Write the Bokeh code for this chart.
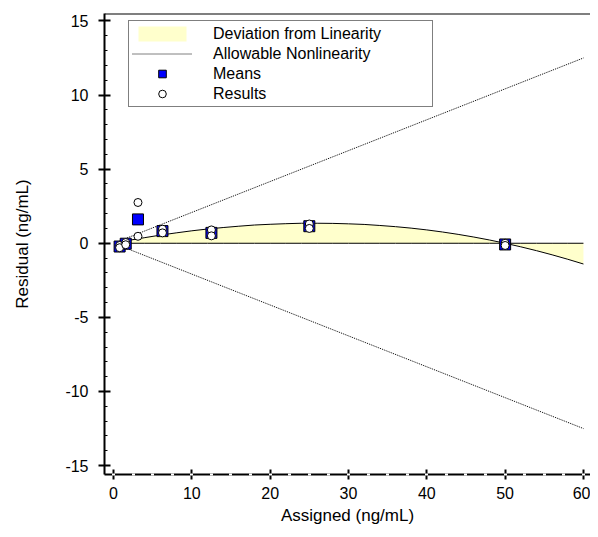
from bokeh.plotting import figure
from bokeh.models import Legend, LegendItem, Span, Range1d, SingleIntervalTicker, PrintfTickFormatter
from bokeh.embed import file_html
from bokeh.resources import INLINE

# ---- data ----
assigned = [0.78, 1.56, 3.125, 6.25, 12.5, 25, 50]
means = [-0.22, -0.03, 1.61, 0.82, 0.70, 1.15, -0.08]

results_x = [0.78, 0.78, 1.56, 1.56, 3.125, 3.125, 6.25, 6.25, 12.5, 12.5, 25, 25, 50, 50]
results_y = [-0.15, -0.30, 0.05, -0.10, 2.75, 0.47, 0.95, 0.70, 0.90, 0.50, 1.30, 1.00, 0.00, -0.15]

curve_x = [0.78, 2, 4, 6, 8, 10, 12, 14, 16, 18, 20, 22, 24, 26, 28, 30,
           32, 34, 36, 38, 40, 42, 44, 46, 48, 50, 52, 54, 56, 58, 60]
curve_y = [0.08, 0.20, 0.38, 0.55, 0.70, 0.84, 0.96, 1.06, 1.15, 1.23, 1.28, 1.32, 1.35, 1.35, 1.34, 1.31,
           1.27, 1.20, 1.12, 1.02, 0.90, 0.76, 0.60, 0.42, 0.22, 0.00, -0.24, -0.50, -0.78, -1.08, -1.40]
baseline_y = [0.0] * len(curve_x)

allow_x = [0.78, 60]
allow_hi = [0.16, 12.5]
allow_lo = [-0.16, -12.5]

x_ticks_interval = 10
y_ticks_interval = 5

FONT = "Liberation Sans"

p = figure(width=590, height=529,
           x_range=Range1d(-1.15, 60.9), y_range=Range1d(-15.6, 15.5),
           output_backend="svg", toolbar_location=None,
           min_border_left=104, min_border_right=0, min_border_top=13, min_border_bottom=55)
p.outline_line_color = None
p.grid.visible = False
p.background_fill_color = "white"
p.border_fill_color = "white"

dev = p.varea(x=curve_x, y1=baseline_y, y2=curve_y, fill_color="#FFFFCC")
p.line(curve_x, curve_y, line_color="black", line_width=1)
p.line(curve_x, baseline_y, line_color="black", line_width=1)
allow = p.line(allow_x, allow_hi, line_color="black", line_width=1, line_dash="1 1")
p.line(allow_x, allow_lo, line_color="black", line_width=1, line_dash="1 1")
mean_r = p.scatter(assigned, means, marker="square", size=11, fill_color="#0000FF", line_color="black", line_width=1)
res_r = p.scatter(results_x, results_y, marker="circle", size=8, fill_color="white", line_color="black", line_width=1)

p.add_layout(Span(location=15.5, dimension="width", line_color="black", line_width=2))

p.xaxis.ticker = SingleIntervalTicker(interval=x_ticks_interval, num_minor_ticks=4)
p.yaxis.ticker = SingleIntervalTicker(interval=y_ticks_interval, num_minor_ticks=5)
p.xaxis.formatter = PrintfTickFormatter(format="%d")
p.yaxis.formatter = PrintfTickFormatter(format="%d")

for ax in (p.xaxis[0], p.yaxis[0]):
    ax.axis_line_width = 2
    ax.axis_line_color = "black"
    ax.major_tick_line_width = 2
    ax.major_tick_line_color = "black"
    ax.major_label_text_font = FONT
    ax.major_label_text_font_size = "16px"
    ax.major_label_text_color = "black"
    ax.axis_label_text_font = FONT
    ax.axis_label_text_font_size = "17px"
    ax.axis_label_text_font_style = "normal"
    ax.axis_label_text_color = "black"

p.xaxis.axis_label = "Assigned (ng/mL)"
p.xaxis.major_tick_in = 5
p.xaxis.major_tick_out = 5
p.xaxis.minor_tick_in = 1
p.xaxis.minor_tick_out = 1
p.xaxis.minor_tick_line_color = "white"
p.xaxis.minor_tick_line_width = 3
p.xaxis.major_label_standoff = 7
p.xaxis.axis_label_standoff = 4

p.yaxis.axis_label = "Residual (ng/mL)"
p.yaxis.major_tick_in = 6
p.yaxis.major_tick_out = 6
p.yaxis.minor_tick_in = 3
p.yaxis.minor_tick_out = 0
p.yaxis.minor_tick_line_color = "black"
p.yaxis.major_label_standoff = 10
p.yaxis.axis_label_standoff = 30

legend = Legend(items=[
    LegendItem(label="Deviation from Linearity", renderers=[dev]),
    LegendItem(label="Allowable Nonlinearity", renderers=[allow]),
    LegendItem(label="Means", renderers=[mean_r]),
    LegendItem(label="Results", renderers=[res_r]),
], location=(24, 367), margin=0, padding=3, spacing=1,
    glyph_width=60, glyph_height=19, label_height=19, label_standoff=21, label_width=216,
    border_line_color="black", border_line_width=1, background_fill_color="white",
    label_text_font=FONT, label_text_font_size="16px", label_text_color="black")
p.add_layout(legend, "center")

open("out.html", "w").write(file_html(p, INLINE))
